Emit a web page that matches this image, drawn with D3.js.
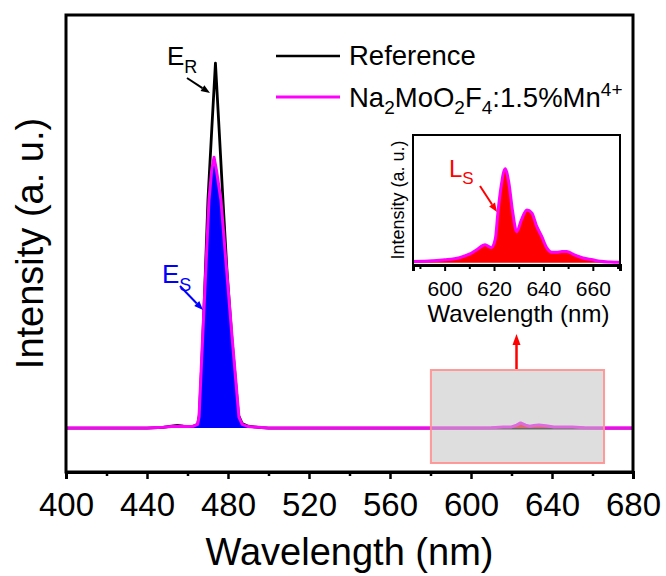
<!DOCTYPE html>
<html><head><meta charset="utf-8">
<script src="https://cdn.jsdelivr.net/npm/d3@7"></script>
<style>
body{margin:0;background:#fff}
svg{display:block}
text{font-family:"Liberation Sans",Arial,Helvetica,sans-serif;fill:#000}
</style>
</head><body>
<svg id="chart" width="666" height="576"></svg>
<script>
// ---------- data ----------
const xTickValues = [400, 440, 480, 520, 560, 600, 640, 680];
const xMinorValues = [420, 460, 500, 540, 580, 620, 660];
const refWl  = [400, 440, 448, 452, 455, 458, 461, 463, 465, 465.8, 467, 468.5, 470.1, 472, 473.8, 475.6, 477.5, 479.5, 482, 485.2, 487, 490, 495, 500, 680];
const refVal = [0, 0, 0.2, 0.5, 0.7, 0.5, 0.4, 0.5, 1.0, 3.5, 17, 38, 62.5, 82, 100, 82, 62.5, 43, 24, 3.5, 1.2, 0.5, 0.2, 0, 0];
const sampleWl  = [400, 440, 448, 452, 456, 460, 463, 465, 465.7, 467, 469, 470.6, 472, 473.1, 474.2, 476.5, 479, 482, 485.4, 487, 490, 495, 500,
                   600, 610, 616, 620, 622.5, 624.5, 627, 629, 631, 633.5, 637, 641, 645, 650, 656, 663, 670, 680];
const sampleVal = [0, 0, 0.2, 0.4, 0.5, 0.4, 0.5, 1.0, 3, 19, 43, 62.5, 71, 74.2, 71, 62.5, 45.5, 25, 3, 1, 0.4, 0.2, 0,
                   0, 0.05, 0.25, 0.3, 0.8, 1.4, 0.8, 0.5, 0.7, 0.85, 0.6, 0.3, 0.25, 0.25, 0.1, 0.03, 0, 0];
const insetWl  = [587, 595, 600, 606, 610, 613, 616.4, 618.9, 620.5, 621.6, 622.8, 624.5, 626, 627.5, 629.2, 631, 633.3, 635.3, 637.3, 639.3, 641.3, 643.4, 645.4, 647.5, 649.5, 652, 656, 660, 663, 667, 671];
const insetVal = [1.2, 2, 3, 5.3, 9, 13.8, 19, 16, 25, 54, 80, 100, 85, 55, 33, 45, 56, 53, 38.6, 28, 16, 11, 11, 12, 12, 9, 5, 3, 1.4, 0.6, 0.3];
const insetTickValues = [600, 620, 640, 660];
const insetMinorValues = [590, 610, 630, 650, 670];
const legendLabels = ["Reference", "Na2MoO2F4:1.5%Mn4+"];

// ---------- layout ----------
const svg = d3.select("#chart");
const M = {l: 66, r: 633, t: 15, b: 472};
const x = d3.scaleLinear().domain([400, 680]).range([M.l, M.r]);
const y = d3.scaleLinear().domain([-12.05, 113.2]).range([M.b, M.t]);

const refData = refWl.map((w, i) => ({w, v: refVal[i]}));
const sampleData = sampleWl.map((w, i) => ({w, v: sampleVal[i]}));

const line = d3.line().x(d => x(d.w)).y(d => y(d.v));
const area = d3.area().x(d => x(d.w)).y0(y(0)).y1(d => y(d.v));

svg.append("defs").append("clipPath").attr("id", "mainclip")
  .append("rect").attr("x", M.l).attr("y", M.t).attr("width", M.r - M.l).attr("height", M.b - M.t);

const g = svg.append("g").attr("clip-path", "url(#mainclip)");
g.append("path").datum(refData).attr("d", line)
  .attr("fill", "none").attr("stroke", "#000").attr("stroke-width", 2.8).attr("stroke-linejoin", "round");
g.append("path").datum(sampleData.filter(d => d.w >= 455 && d.w <= 500)).attr("d", area)
  .attr("fill", "#0000ff");
g.append("path").datum(sampleData.filter(d => d.w >= 600 && d.w <= 672)).attr("d", area)
  .attr("fill", "#ff0000");
g.append("path").datum(sampleData).attr("d", line)
  .attr("fill", "none").attr("stroke", "#ff00ff").attr("stroke-width", 3).attr("stroke-linejoin", "round");

// grey zoom box (semi transparent, above lines)
svg.append("rect").attr("x", x(580.2)).attr("y", 370).attr("width", x(665.7) - x(580.2)).attr("height", 93)
  .attr("fill", "rgb(195,195,195)").attr("fill-opacity", 0.55)
  .attr("stroke", "#ff9090").attr("stroke-opacity", 0.9).attr("stroke-width", 2);

// frame
svg.append("rect").attr("x", M.l).attr("y", M.t).attr("width", M.r - M.l).attr("height", M.b - M.t)
  .attr("fill", "none").attr("stroke", "#000").attr("stroke-width", 3);

// x axis
const xAxis = svg.append("g").attr("transform", `translate(0,${M.b})`)
  .call(d3.axisBottom(x).tickValues(xTickValues).tickSize(7).tickPadding(14).tickFormat(d3.format("d")));
xAxis.select(".domain").attr("stroke-width", 3);
xAxis.selectAll(".tick line").attr("stroke-width", 2.5);
xAxis.selectAll(".tick text").attr("font-size", 33).attr("font-family", "Liberation Sans, Arial, sans-serif");
svg.append("g").attr("transform", `translate(0,${M.b})`)
  .call(d3.axisBottom(x).tickValues(xMinorValues).tickSize(4).tickFormat(""))
  .call(a => a.select(".domain").remove())
  .selectAll(".tick line").attr("stroke-width", 2.5);

svg.append("text").attr("x", (M.l + M.r) / 2).attr("y", 565).attr("text-anchor", "middle")
  .attr("font-size", 38).text("Wavelength (nm)");
svg.append("text").attr("transform", `translate(43,${(M.t + M.b) / 2}) rotate(-90)`).attr("text-anchor", "middle")
  .attr("font-size", 38).text("Intensity (a. u.)");

function arrow(x1, y1, x2, y2, color, w, hl, hw) {
  const a = Math.atan2(y2 - y1, x2 - x1);
  const bx = x2 - hl * Math.cos(a), by = y2 - hl * Math.sin(a);
  svg.append("line").attr("x1", x1).attr("y1", y1).attr("x2", bx).attr("y2", by)
    .attr("stroke", color).attr("stroke-width", w);
  const px = -Math.sin(a) * hw / 2, py = Math.cos(a) * hw / 2;
  svg.append("path").attr("d", `M${x2},${y2}L${bx + px},${by + py}L${bx - px},${by - py}Z`).attr("fill", color);
}

function subLabel(xp, yp, main, sub, color, fs, sfs, dy) {
  const t = svg.append("text").attr("x", xp).attr("y", yp).attr("font-size", fs).style("fill", color);
  t.append("tspan").text(main);
  t.append("tspan").attr("font-size", sfs).attr("dy", dy).text(sub);
}
subLabel(167, 65, "E", "R", "#000", 26, 18, 8);
arrow(187, 78, 210, 93, "#000", 2, 9, 7);
subLabel(162, 283, "E", "S", "#0000ff", 26, 18, 8);
arrow(180, 286, 203, 310, "#0000ff", 2, 9, 7);

// ---------- inset ----------
const I = {l: 413, r: 620, t: 135, b: 265};
const xi = d3.scaleLinear().domain([587.2, 671]).range([I.l, I.r]);
const yi = d3.scaleLinear().domain([-2.5, 136]).range([I.b, I.t]);
svg.append("rect").attr("x", I.l).attr("y", I.t).attr("width", I.r - I.l).attr("height", I.b - I.t).attr("fill", "#fff");
svg.append("defs").append("clipPath").attr("id", "insclip")
  .append("rect").attr("x", I.l).attr("y", I.t).attr("width", I.r - I.l).attr("height", I.b - I.t);
const insetData = insetWl.map((w, i) => ({w, v: insetVal[i]}));
const gi = svg.append("g").attr("clip-path", "url(#insclip)");
gi.append("path").datum(insetData)
  .attr("d", d3.area().curve(d3.curveMonotoneX).x(d => xi(d.w)).y0(yi(0)).y1(d => yi(d.v)))
  .attr("fill", "#ff0000");
gi.append("path").datum(insetData)
  .attr("d", d3.line().curve(d3.curveMonotoneX).x(d => xi(d.w)).y(d => yi(d.v)))
  .attr("fill", "none").attr("stroke", "#ff00ff").attr("stroke-width", 3);
svg.append("rect").attr("x", I.l).attr("y", I.t).attr("width", I.r - I.l).attr("height", I.b - I.t)
  .attr("fill", "none").attr("stroke", "#000").attr("stroke-width", 2);
const xiAxis = svg.append("g").attr("transform", `translate(0,${I.b})`)
  .call(d3.axisBottom(xi).tickValues(insetTickValues).tickSize(6).tickPadding(10).tickFormat(d3.format("d")));
xiAxis.select(".domain").attr("stroke-width", 3);
xiAxis.selectAll(".tick line").attr("stroke-width", 2);
xiAxis.selectAll(".tick text").attr("font-size", 21).attr("font-family", "Liberation Sans, Arial, sans-serif");
svg.append("g").attr("transform", `translate(0,${I.b})`)
  .call(d3.axisBottom(xi).tickValues(insetMinorValues).tickSize(4).tickFormat(""))
  .call(a => a.select(".domain").remove())
  .selectAll(".tick line").attr("stroke-width", 2);
svg.append("text").attr("x", (I.l + I.r) / 2 + 2).attr("y", 322).attr("text-anchor", "middle")
  .attr("font-size", 24).text("Wavelength (nm)");
svg.append("text").attr("transform", `translate(404,${(I.t + I.b) / 2}) rotate(-90)`).attr("text-anchor", "middle")
  .attr("font-size", 18).text("Intensity (a. u.)");
subLabel(449, 177, "L", "S", "#ff0000", 24, 17, 7);
arrow(480, 186, 497, 212, "#ff0000", 2, 9, 7);

arrow(516.5, 369, 516.5, 334, "#ff0000", 2.5, 11, 8);

// ---------- legend ----------
const leg = svg.append("g");
leg.append("line").attr("x1", 276).attr("x2", 340).attr("y1", 56).attr("y2", 56).attr("stroke", "#000").attr("stroke-width", 2.6);
leg.append("text").attr("x", 349).attr("y", 65).attr("font-size", 27.5).text(legendLabels[0]);
leg.append("line").attr("x1", 276).attr("x2", 340).attr("y1", 97).attr("y2", 97).attr("stroke", "#ff00ff").attr("stroke-width", 3);
const lt = leg.append("text").attr("x", 349).attr("y", 107).attr("font-size", 27.5);
const parts = [["Na", 0], ["2", 1], ["MoO", 0], ["2", 1], ["F", 0], ["4", 1], [":1.5%Mn", 0], ["4+", 2]];
let state = 0;
parts.forEach(([s, k]) => {
  const off = k === 1 ? 7 : (k === 2 ? -11 : 0);
  const prev = state === 1 ? 7 : (state === 2 ? -11 : 0);
  lt.append("tspan").attr("dy", off - prev).attr("font-size", k ? 19 : 27.5).text(s);
  state = k;
});
</script>
</body></html>
